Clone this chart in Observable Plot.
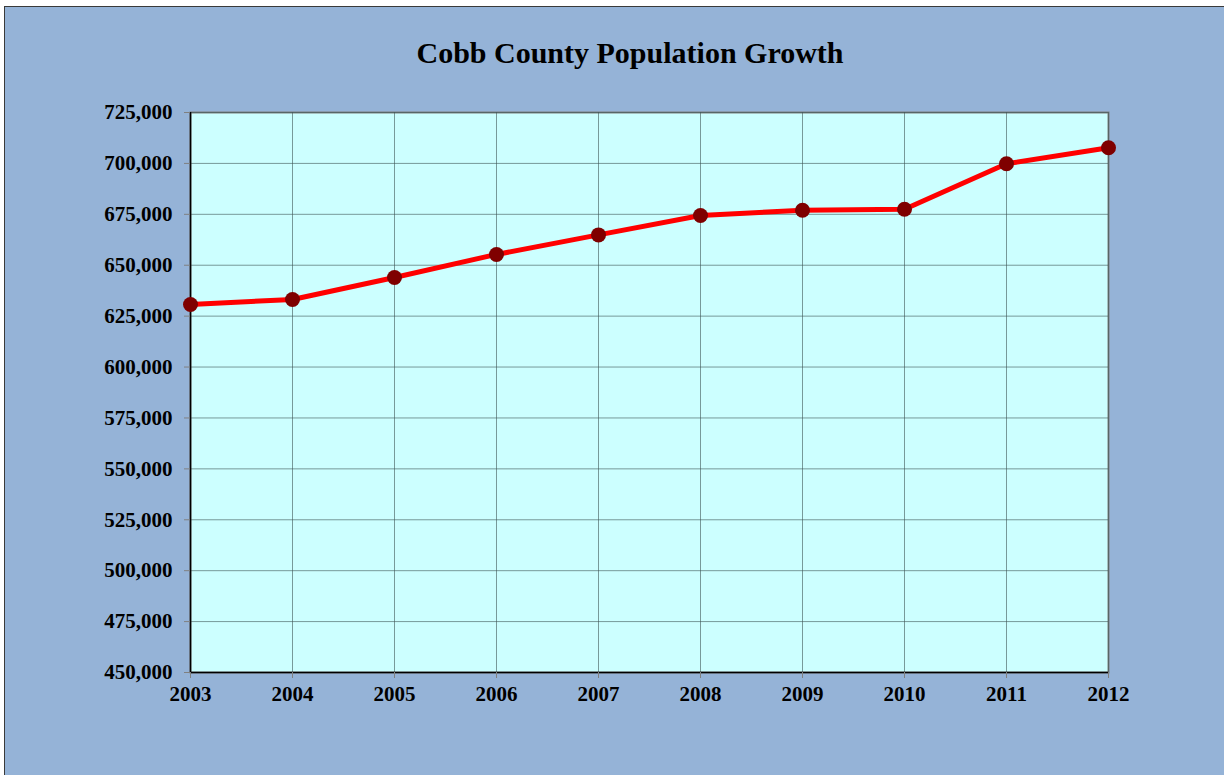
<!DOCTYPE html>
<html><head><meta charset="utf-8">
<script src="https://cdn.jsdelivr.net/npm/d3@7"></script>
<script src="https://cdn.jsdelivr.net/npm/@observablehq/plot@0.6"></script>
<style>
body{margin:0;background:#fff;width:1224px;height:775px;overflow:hidden;position:relative;font-family:"Liberation Serif","Times New Roman",serif;}
#bg{position:absolute;left:4px;top:6px;width:1240px;height:790px;background:#95b3d7;border:1px solid #3a3a3a;box-sizing:border-box;}
#title{position:absolute;left:0;top:36px;width:1260px;text-align:center;font-weight:bold;font-size:30px;color:#000}
#chart{position:absolute;left:0;top:0}
</style></head><body>
<div id="bg"></div>
<div id="title">Cobb County Population Growth</div>
<div id="chart"></div>
<script>
const years = [2003, 2004, 2005, 2006, 2007, 2008, 2009, 2010, 2011, 2012];
const population = [630700, 633200, 644000, 655300, 664900, 674400, 677000, 677500, 699800, 707700];
const yTicks = [450000, 475000, 500000, 525000, 550000, 575000, 600000, 625000, 650000, 675000, 700000, 725000];

const data = years.map((y, i) => ({year: y, pop: population[i]}));

const chart = Plot.plot({
  width: 1224,
  height: 775,
  marginTop: 112,
  marginRight: 116,
  marginBottom: 103,
  marginLeft: 190,
  style: {background: "transparent", fontFamily: "'Liberation Serif', 'Times New Roman', serif", fontSize: "21px", fontWeight: "bold", color: "#000"},
  x: {domain: [2003, 2012], ticks: years, tickFormat: d3.format("d"), label: null},
  y: {domain: [450000, 725000], ticks: yTicks, tickFormat: d3.format(","), label: null},
  marks: [
    Plot.frame({fill: "#ccffff", stroke: "#808080", strokeWidth: 2}),
    Plot.gridX(years, {stroke: "#3d5555", strokeOpacity: 0.6, strokeWidth: 1}),
    Plot.gridY(yTicks, {stroke: "#3d5555", strokeOpacity: 0.6, strokeWidth: 1}),
    Plot.ruleX([2003], {stroke: "#000", strokeWidth: 1.5}),
    Plot.ruleY([450000], {stroke: "#000", strokeWidth: 1.5}),
    Plot.axisX({ticks: years, tickFormat: d3.format("d"), tickSize: 6, tickPadding: 8, stroke: "#808080", label: null}),
    Plot.axisY({ticks: yTicks, tickFormat: d3.format(","), tickSize: 6, tickPadding: 12, stroke: "#808080", label: null}),
    Plot.line(data, {x: "year", y: "pop", stroke: "#ff0000", strokeWidth: 5}),
    Plot.dot(data, {x: "year", y: "pop", r: 7.5, fill: "#7f0000", stroke: "none"})
  ]
});
document.getElementById("chart").appendChild(chart);
</script>
</body></html>
